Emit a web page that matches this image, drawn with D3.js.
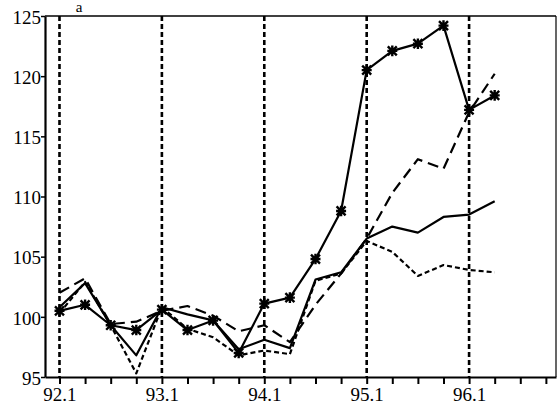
<!DOCTYPE html>
<html><head><meta charset="utf-8">
<script src="https://cdn.jsdelivr.net/npm/d3@7"></script>
<style>body{margin:0;background:#fff}svg{display:block}text{font-family:"Liberation Serif","Times New Roman",serif}</style>
</head><body>
<svg id="c" width="558" height="409"></svg>
<script>
const quarters = ["92.1","92.2","92.3","92.4","93.1","93.2","93.3","93.4","94.1","94.2","94.3","94.4","95.1","95.2","95.3","95.4","96.1","96.2","96.3","96.4"];
const yTicks = [95,100,105,110,115,120,125];
const starSeries  = [100.5,101.0,99.3,98.9,100.6,98.9,99.7,97.0,101.1,101.6,104.8,108.8,120.5,122.1,122.7,124.2,117.2,118.4];
const solidSeries = [100.8,102.8,99.3,96.8,100.8,100.2,99.7,97.3,98.1,97.4,103.1,103.7,106.5,107.5,107.0,108.3,108.5,109.6];
const longDashSeries = [102.0,103.2,99.4,99.6,100.5,100.9,100.1,98.8,99.3,97.9,101.0,103.6,106.5,110.3,113.1,112.3,117.0,120.2];
const shortDashSeries = [100.3,102.9,99.3,95.3,100.8,99.0,98.3,96.8,97.2,96.9,103.0,103.6,106.3,105.4,103.4,104.3,103.9,103.7];

const svg = d3.select("#c");
const L = 45, R = 556, T = 16, B = 377;
const x = d3.scaleLinear().domain([-0.566, 19.395]).range([L, R]);
const y = d3.scaleLinear().domain([95, 125]).range([B, T]);
const font = '"Liberation Serif","Times New Roman",serif';

// panel letter at top
svg.append("text").attr("x", 79).attr("y", 12).attr("text-anchor","middle")
  .attr("font-family", font).style("font-size","15px").text("a");

// vertical dotted year lines
const yearIdx = quarters.map((q,i)=>i).filter(i=>quarters[i].endsWith(".1"));
svg.selectAll("line.v").data(yearIdx).join("line")
  .attr("x1", d=>x(d)).attr("x2", d=>x(d)).attr("y1", T).attr("y2", B)
  .attr("stroke","#000").attr("stroke-width",2.6).attr("stroke-dasharray","5,3");

// frame: top and right
svg.append("line").attr("x1",L).attr("x2",R).attr("y1",T).attr("y2",T).attr("stroke","#000").attr("stroke-width",1.5);
svg.append("line").attr("x1",R).attr("x2",R).attr("y1",T).attr("y2",B).attr("stroke","#000").attr("stroke-width",1.2);

// axes
const xAxis = d3.axisBottom(x).tickValues(quarters.map((q,i)=>i))
  .tickFormat(i => quarters[i].endsWith(".1") ? quarters[i] : "").tickSizeOuter(0).tickSizeInner(7).tickPadding(4);
const gx = svg.append("g").attr("transform",`translate(0,${B})`).call(xAxis).attr("font-family", font);
gx.select(".domain").attr("stroke-width",2.2);
gx.selectAll(".tick line").attr("stroke-width",2);
gx.selectAll("text").style("font-family",font).style("font-size","19px").attr("fill","#000");

const yAxis = d3.axisLeft(y).tickValues(yTicks).tickFormat(d3.format("d")).tickSizeOuter(0).tickSizeInner(4).tickPadding(0);
const gy = svg.append("g").attr("transform",`translate(${L},0)`).call(yAxis).attr("font-family", font);
gy.select(".domain").attr("stroke-width",2.2);
gy.selectAll(".tick line").attr("stroke-width",1.5);
gy.selectAll("text").style("font-family",font).style("font-size","19px").attr("fill","#000").attr("dy","0.38em");

const line = d3.line().x((d,i)=>x(i)).y(d=>y(d));
function draw(data, dash, w){
  svg.append("path").datum(data).attr("d", line).attr("fill","none")
    .attr("stroke","#000").attr("stroke-width", w).attr("stroke-linejoin","round")
    .attr("stroke-dasharray", dash);
}
draw(shortDashSeries, "5,3", 2.2);
draw(longDashSeries, "11,6", 2.2);
draw(solidSeries, null, 2.2);
draw(starSeries, null, 2.2);

// asterisk markers
const s = 4.5;
const markerPath = `M${-s},${-s}L${s},${s}M${s},${-s}L${-s},${s}M0,${-s-0.8}L0,${s+0.8}M${-s-0.5},0L${s+0.5},0`;
svg.selectAll("path.m").data(starSeries).join("path")
  .attr("transform",(d,i)=>`translate(${x(i)},${y(d)})`)
  .attr("d", markerPath).attr("fill","none").attr("stroke","#000").attr("stroke-width",2.4);
</script>
</body></html>
